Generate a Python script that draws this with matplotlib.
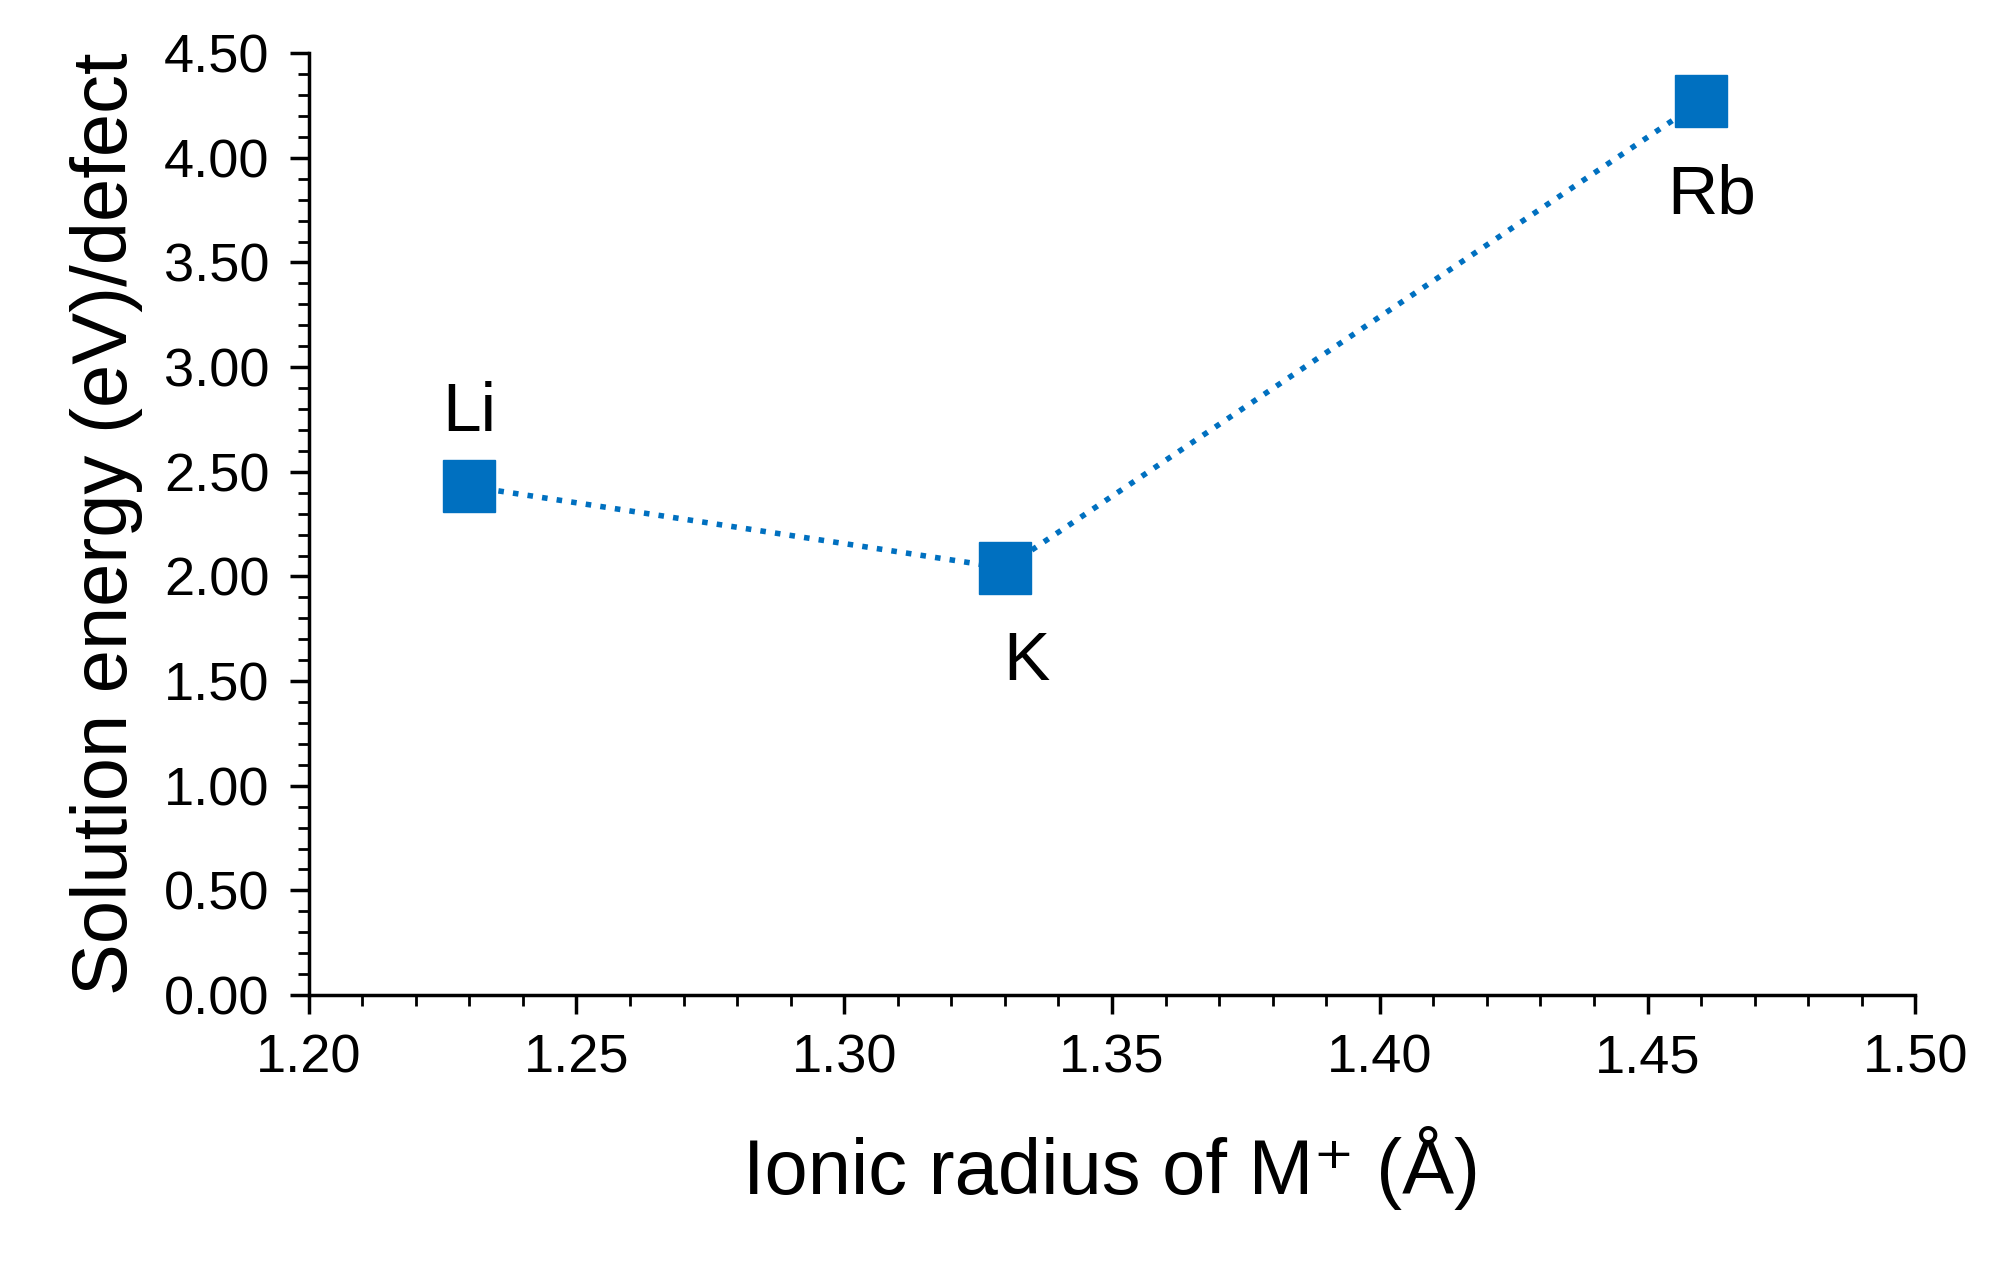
import matplotlib
matplotlib.use("Agg")
import matplotlib.pyplot as plt
from matplotlib.ticker import MultipleLocator

plt.rcParams['font.family'] = ['Liberation Sans', 'DejaVu Sans']

ions = ['Li', 'K', 'Rb']
radius = [1.23, 1.33, 1.46]
energy = [2.43, 2.04, 4.27]
label_offsets = [(0.0, 0.35), (0.004, -0.45), (0.002, -0.45)]

fig = plt.figure(figsize=(19.91, 12.66), dpi=100)
ax = fig.add_axes([0.155, 0.214, 0.807, 0.744])
color = '#0070C0'
ax.plot(radius, energy, ':', color=color, lw=4, marker='s', markersize=38,
        markerfacecolor=color, markeredgecolor=color)
for name, x, y, (dx, dy) in zip(ions, radius, energy, label_offsets):
    ax.text(x + dx, y + dy, name, fontsize=50, ha='center', va='center')

ax.set_xlim(1.20, 1.50)
ax.set_ylim(0, 4.5)
ax.xaxis.set_major_locator(MultipleLocator(0.05))
ax.xaxis.set_minor_locator(MultipleLocator(0.01))
ax.yaxis.set_major_locator(MultipleLocator(0.5))
ax.yaxis.set_minor_locator(MultipleLocator(0.1))
ax.xaxis.set_major_formatter(lambda v, p: f"{v:.2f}")
ax.yaxis.set_major_formatter(lambda v, p: f"{v:.2f}")
for s in ['top', 'right']:
    ax.spines[s].set_visible(False)
for s in ['left', 'bottom']:
    ax.spines[s].set_linewidth(2.5)
ax.tick_params(which='major', length=14, width=2.5, labelsize=39, pad=14)
ax.tick_params(which='minor', length=8, width=2)
ax.set_xlabel('Ionic radius of M⁺ (Å)', fontsize=56, labelpad=30)
ax.set_ylabel('Solution energy (eV)/defect', fontsize=56, labelpad=15)

fig.savefig('out.png', dpi=100)
